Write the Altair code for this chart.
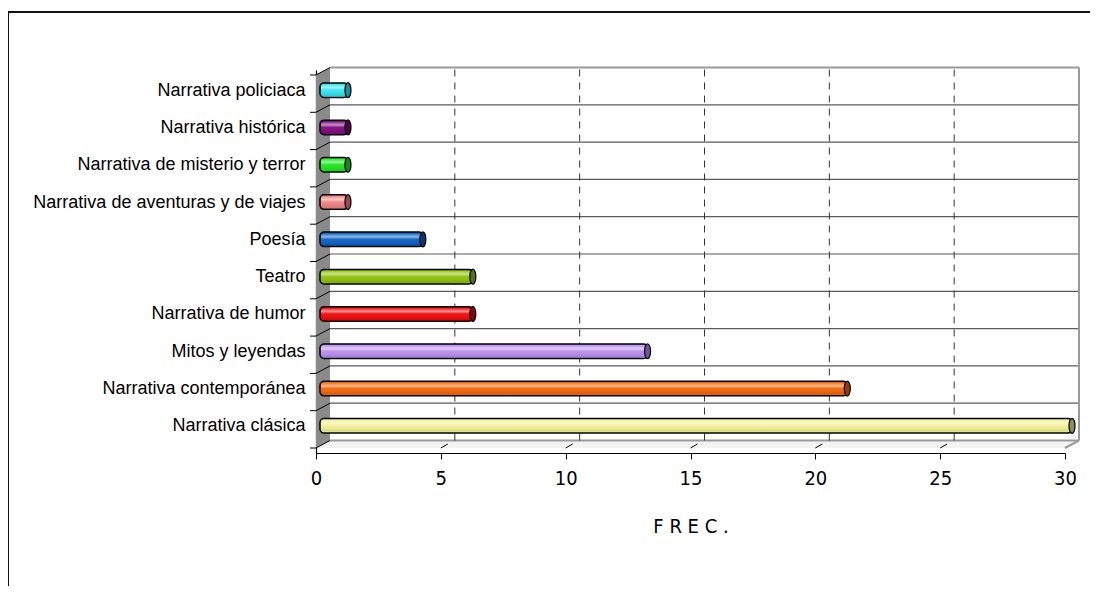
import json
import altair as alt
import pandas as pd

# ---------------- data (top to bottom as in the chart) ----------------
categories = [
    "Narrativa policiaca",
    "Narrativa histórica",
    "Narrativa de misterio y terror",
    "Narrativa de aventuras y de viajes",
    "Poesía",
    "Teatro",
    "Narrativa de humor",
    "Mitos y leyendas",
    "Narrativa contemporánea",
    "Narrativa clásica",
]
values = [1, 1, 1, 1, 4, 6, 6, 13, 21, 30]
bar_colors = ["#33e3ef", "#7d0a7d", "#1ee61e", "#f08282", "#0b60c2",
              "#8fc10a", "#f00808", "#bb8ef2", "#f26505", "#f2f092"]
cap_colors = ["#1a8c94", "#4a044a", "#0f8c0f", "#9a4a4a", "#063a78",
              "#56750a", "#8c0404", "#70559a", "#953d03", "#8f8d55"]
x_ticks = [0, 5, 10, 15, 20, 25, 30]
x_title = "F R E C ."

# ---------------- geometry constants ----------------
W, H = 749, 383
XMAX = 30
N = len(categories)
DX, DY = 14, 7.5          # 3-D depth offset in pixels
dxu = DX * XMAX / W       # depth in data units
dyu = DY * N / H

NARROW = "Liberation Sans Narrow, DejaVu Sans Condensed, Liberation Sans"

df = pd.DataFrame({
    "cat": categories,
    "val": values,
    "fill": bar_colors,
    "cap": cap_colors,
    "pos": [N - 1 - i + 0.5 for i in range(N)],
})

x_scale = alt.Scale(domain=[0, XMAX], nice=False, zero=False)
y_scale = alt.Scale(domain=[0, N], nice=False, zero=False)

label_expr = json.dumps(categories[::-1], ensure_ascii=False) + "[floor(datum.value)]"

x_axis = alt.Axis(values=x_ticks, grid=False, domain=True, domainColor="#000",
                  domainWidth=1.2, ticks=True, tickColor="#000", tickSize=6,
                  labelFont=NARROW, labelFontSize=20, labelColor="#000",
                  labelPadding=9, labelFlush=False, title=x_title,
                  titleFont=NARROW, titleFontSize=20, titleFontWeight="normal",
                  titleColor="#000", titlePadding=28)
y_axis = alt.Axis(values=[i + 0.5 for i in range(N)], labelExpr=label_expr,
                  grid=False, ticks=False, domain=True, domainColor="#000",
                  domainWidth=1.2, labelFont="Liberation Sans", labelFontSize=18,
                  labelColor="#000", labelPadding=11, labelLimit=400,
                  labelOffset=-3.5, title=None)


def X(f):
    return alt.X(f, scale=x_scale, axis=x_axis)


def Y(f):
    return alt.Y(f, scale=y_scale, axis=y_axis)


# side wall
side_df = pd.DataFrame({"x": [0, dxu], "y": [0, dyu], "y2": [N, N + dyu]})
side = alt.Chart(side_df).mark_area(color="#8a8a8a").encode(
    x=X("x:Q"), y=Y("y:Q"), y2="y2:Q")

# floor
floor_df = pd.DataFrame({"x": [0, dxu, XMAX, XMAX + dxu],
                         "y": [0, 0, 0, dyu], "y2": [0, dyu, dyu, dyu]})
floor = alt.Chart(floor_df).mark_area(color="#f4f4f4").encode(
    x=X("x:Q"), y=Y("y:Q"), y2="y2:Q")

bounds = pd.DataFrame({"b": list(range(N + 1)), "x0": 0, "x1": XMAX})

back = dict(xOffset=DX, x2Offset=DX, yOffset=-DY, y2Offset=-DY)

# back wall horizontal gridlines
hgrid = alt.Chart(bounds).mark_rule(color="#5a5a5a", strokeWidth=1.2, **back).encode(
    x=X("x0:Q"), x2="x1:Q", y=Y("b:Q"), y2="b:Q")

# back wall top + right edge (thicker grey)
edge_df = pd.DataFrame({"x": [0, XMAX], "x2": [XMAX, XMAX],
                        "y": [N, 0], "y2": [N, N]})
edges = alt.Chart(edge_df).mark_rule(color="#9a9a9a", strokeWidth=2, **back).encode(
    x=X("x:Q"), x2="x2:Q", y=Y("y:Q"), y2="y2:Q")

# bottom back edge of floor (thicker grey)
fl_edge_df = pd.DataFrame({"x": [0], "x2": [XMAX], "y": [0]})
fl_edge = alt.Chart(fl_edge_df).mark_rule(color="#9a9a9a", strokeWidth=2, **back).encode(
    x=X("x:Q"), x2="x2:Q", y=Y("y:Q"), y2="y:Q")

# right diagonal floor edge
rdiag_df = pd.DataFrame({"x": [XMAX], "y": [0]})
rdiag = alt.Chart(rdiag_df).mark_rule(color="#9a9a9a", strokeWidth=2,
                                      x2Offset=DX, y2Offset=-DY).encode(
    x=X("x:Q"), x2="x:Q", y=Y("y:Q"), y2="y:Q")

# dashed vertical gridlines on back wall
vg_df = pd.DataFrame({"v": x_ticks[1:-1], "y0": 0, "y1": N})
vgrid = alt.Chart(vg_df).mark_rule(color="#333", strokeWidth=1, strokeDash=[7, 6],
                                   **back).encode(
    x=X("v:Q"), x2="v:Q", y=Y("y0:Q"), y2="y1:Q")

# side wall diagonals at row boundaries
sdiag = alt.Chart(bounds).mark_rule(color="#000", strokeWidth=1,
                                    x2Offset=DX, y2Offset=-DY).encode(
    x=X("x0:Q"), x2="x0:Q", y=Y("b:Q"), y2="b:Q")

# left ticks at row boundaries
lticks = alt.Chart(bounds).mark_rule(color="#000", strokeWidth=1).encode(
    x=alt.value(-6), x2=alt.value(0), y=Y("b:Q"))

# floor slashes at x ticks
fs_df = pd.DataFrame({"v": x_ticks[1:-1], "y0": 0})
fslash = alt.Chart(fs_df).mark_rule(color="#000", strokeWidth=1,
                                    x2Offset=7, y2Offset=-4).encode(
    x=X("v:Q"), x2="v:Q", y=Y("y0:Q"), y2="y0:Q")

# cylinders
BAR_T = 14.5
bars = alt.Chart(df).mark_bar(size=BAR_T, xOffset=7, x2Offset=4, yOffset=-3.5,
                              cornerRadius=4, stroke="#000", strokeWidth=1.5).encode(
    x=X("val:Q"), x2=alt.X2(datum=0), y=Y("pos:Q"),
    fill=alt.Fill("fill:N", scale=None))

shine = alt.Chart(df).mark_bar(
    size=BAR_T - 3, xOffset=6, x2Offset=5, yOffset=-3.5, cornerRadius=3,
    strokeWidth=0,
    fill=alt.Gradient(gradient="linear", x1=0, x2=0, y1=0, y2=1, stops=[
        alt.GradientStop(color="rgba(255,255,255,0.10)", offset=0),
        alt.GradientStop(color="rgba(255,255,255,0.55)", offset=0.28),
        alt.GradientStop(color="rgba(255,255,255,0.05)", offset=0.5),
        alt.GradientStop(color="rgba(0,0,0,0.12)", offset=1),
    ])).encode(x=X("val:Q"), x2=alt.X2(datum=0), y=Y("pos:Q"))

ELLIPSE = "M 0 -1 A 0.4 1 0 1 1 0 1 A 0.4 1 0 1 1 0 -1 Z"
caps = alt.Chart(df).mark_point(shape=ELLIPSE, size=(BAR_T + 0.5) ** 2, filled=True,
                                opacity=1, stroke="#000", strokeWidth=1.2,
                                xOffset=7, yOffset=-3.5).encode(
    x=X("val:Q"), y=Y("pos:Q"), fill=alt.Fill("cap:N", scale=None))

# outer chart frame (left and top edges visible)
frame_df = pd.DataFrame({"k": [0]})
frame_top = alt.Chart(frame_df).mark_rule(color="#111", strokeWidth=2).encode(
    x=alt.value(-308), x2=alt.value(900), y=alt.value(-58))
frame_left = alt.Chart(frame_df).mark_rule(color="#111", strokeWidth=2).encode(
    x=alt.value(-308), y=alt.value(-58), y2=alt.value(700))

chart = alt.layer(
    floor, side, hgrid, fl_edge, edges, rdiag, vgrid, sdiag, lticks, fslash,
    bars, shine, caps, frame_top, frame_left,
).properties(
    width=W, height=H,
    autosize=alt.AutoSizeParams(type="none"),
    padding={"left": 308, "top": 62, "right": 25, "bottom": 133},
    background="#ffffff",
).configure_view(stroke=None)

chart.save("out.html", embed_options={"renderer": "svg", "actions": False})
